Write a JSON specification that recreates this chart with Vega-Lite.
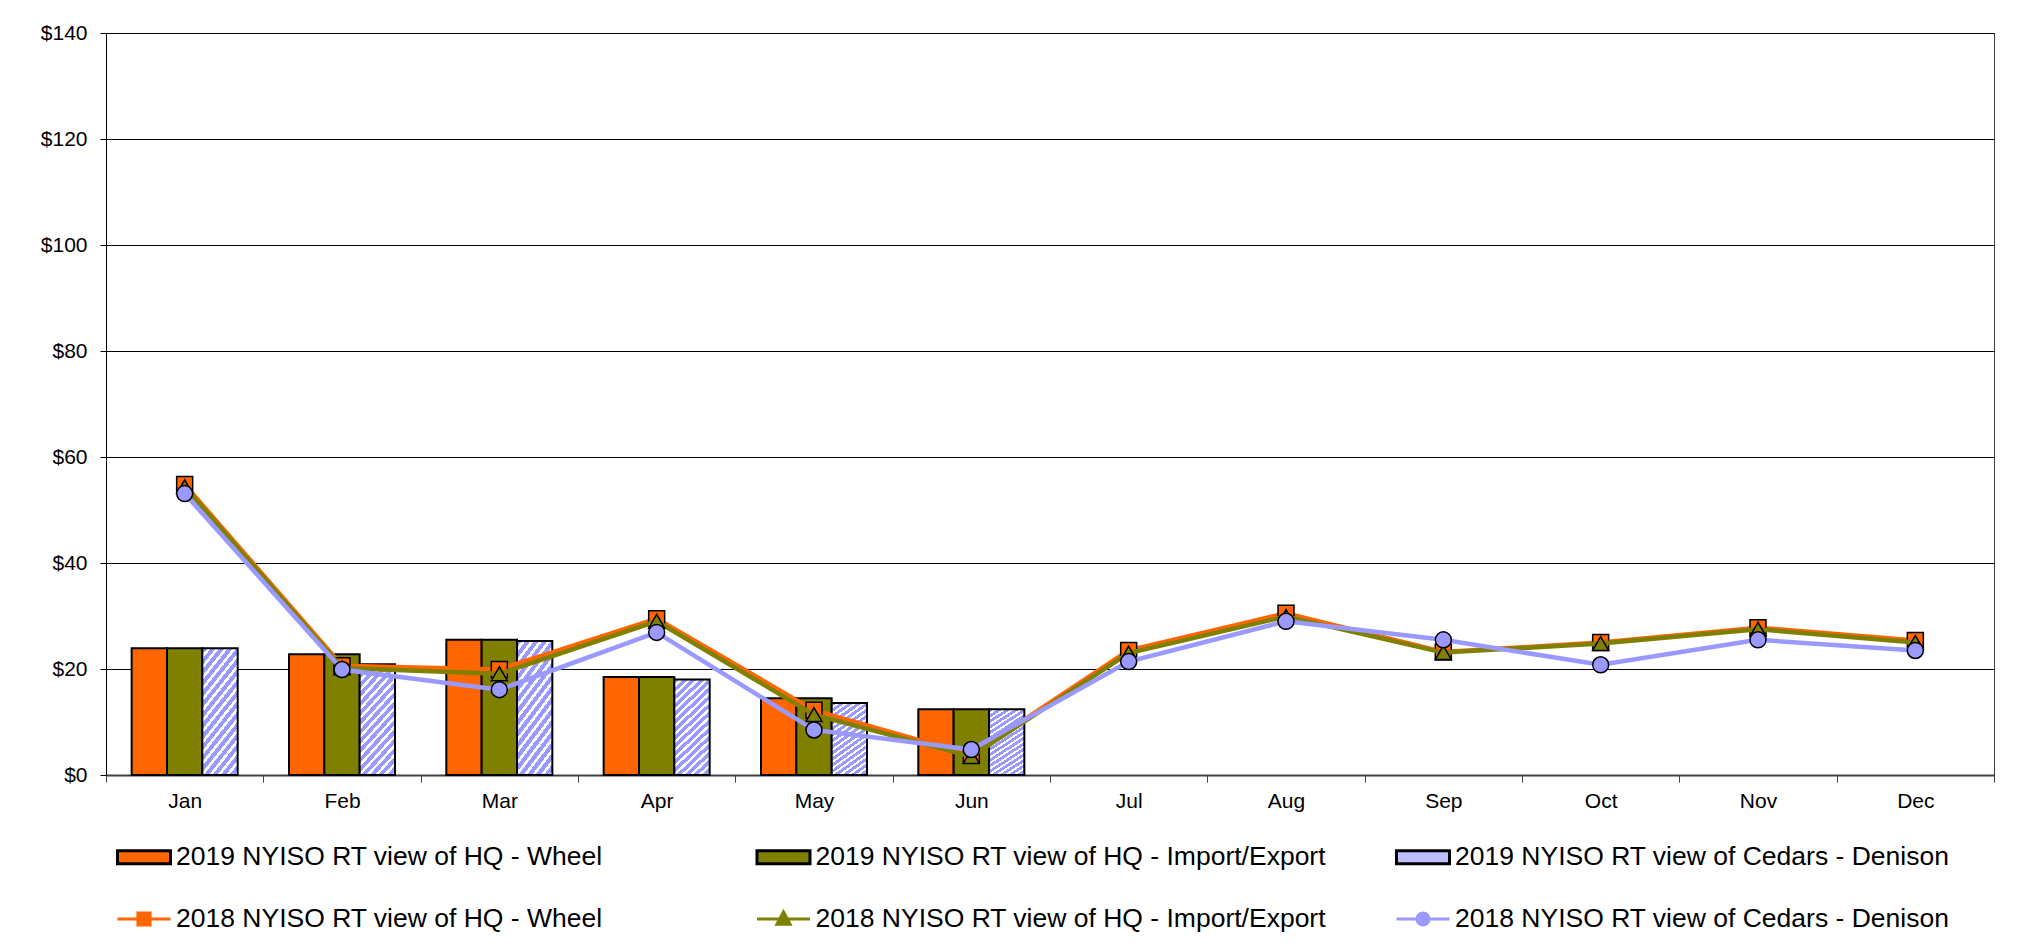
{
  "$schema": "https://vega.github.io/schema/vega-lite/v6.json",
  "width": 1888,
  "height": 742,
  "autosize": {"type": "none"},
  "padding": {"left": 106, "top": 33, "right": 25, "bottom": 174},
  "background": "white",
  "config": {
    "font": "Liberation Sans",
    "view": {"stroke": "#404040", "strokeWidth": 1},
    "legend": {
      "orient": "none", "legendX": 10, "legendY": 796, "direction": "horizontal", "columns": 3, "gridAlign": "all", "padding": 0,
      "symbolSize": 2809, "symbolStrokeWidth": 3, "symbolOpacity": 1,
      "labelFont": "Liberation Sans", "labelFontSize": 26.5, "labelColor": "black", "labelOffset": 4, "labelLimit": 0,
      "rowPadding": 20, "columnPadding": 63.5
    }
  },
  "datasets": {
    "bars": [
      {"month": "Jan", "series": "2019 NYISO RT view of HQ - Wheel", "value": 23.9},
      {"month": "Feb", "series": "2019 NYISO RT view of HQ - Wheel", "value": 22.8},
      {"month": "Mar", "series": "2019 NYISO RT view of HQ - Wheel", "value": 25.5},
      {"month": "Apr", "series": "2019 NYISO RT view of HQ - Wheel", "value": 18.5},
      {"month": "May", "series": "2019 NYISO RT view of HQ - Wheel", "value": 14.5},
      {"month": "Jun", "series": "2019 NYISO RT view of HQ - Wheel", "value": 12.4},
      {"month": "Jan", "series": "2019 NYISO RT view of HQ - Import/Export", "value": 23.9},
      {"month": "Feb", "series": "2019 NYISO RT view of HQ - Import/Export", "value": 22.8},
      {"month": "Mar", "series": "2019 NYISO RT view of HQ - Import/Export", "value": 25.5},
      {"month": "Apr", "series": "2019 NYISO RT view of HQ - Import/Export", "value": 18.5},
      {"month": "May", "series": "2019 NYISO RT view of HQ - Import/Export", "value": 14.5},
      {"month": "Jun", "series": "2019 NYISO RT view of HQ - Import/Export", "value": 12.4},
      {"month": "Jan", "series": "2019 NYISO RT view of Cedars - Denison", "value": 23.9},
      {"month": "Feb", "series": "2019 NYISO RT view of Cedars - Denison", "value": 20.9},
      {"month": "Mar", "series": "2019 NYISO RT view of Cedars - Denison", "value": 25.3},
      {"month": "Apr", "series": "2019 NYISO RT view of Cedars - Denison", "value": 18.0},
      {"month": "May", "series": "2019 NYISO RT view of Cedars - Denison", "value": 13.6},
      {"month": "Jun", "series": "2019 NYISO RT view of Cedars - Denison", "value": 12.4}
    ],
    "lines": [
      {"month": "Jan", "series": "2018 NYISO RT view of HQ - Wheel", "value": 54.8},
      {"month": "Feb", "series": "2018 NYISO RT view of HQ - Wheel", "value": 20.6},
      {"month": "Mar", "series": "2018 NYISO RT view of HQ - Wheel", "value": 19.9},
      {"month": "Apr", "series": "2018 NYISO RT view of HQ - Wheel", "value": 29.5},
      {"month": "May", "series": "2018 NYISO RT view of HQ - Wheel", "value": 12.2},
      {"month": "Jun", "series": "2018 NYISO RT view of HQ - Wheel", "value": 3.8},
      {"month": "Jul", "series": "2018 NYISO RT view of HQ - Wheel", "value": 23.5},
      {"month": "Aug", "series": "2018 NYISO RT view of HQ - Wheel", "value": 30.5},
      {"month": "Sep", "series": "2018 NYISO RT view of HQ - Wheel", "value": 23.2},
      {"month": "Oct", "series": "2018 NYISO RT view of HQ - Wheel", "value": 25.0},
      {"month": "Nov", "series": "2018 NYISO RT view of HQ - Wheel", "value": 27.8},
      {"month": "Dec", "series": "2018 NYISO RT view of HQ - Wheel", "value": 25.4},
      {"month": "Jan", "series": "2018 NYISO RT view of HQ - Import/Export", "value": 54.4},
      {"month": "Feb", "series": "2018 NYISO RT view of HQ - Import/Export", "value": 20.2},
      {"month": "Mar", "series": "2018 NYISO RT view of HQ - Import/Export", "value": 19.1},
      {"month": "Apr", "series": "2018 NYISO RT view of HQ - Import/Export", "value": 29.0},
      {"month": "May", "series": "2018 NYISO RT view of HQ - Import/Export", "value": 11.4},
      {"month": "Jun", "series": "2018 NYISO RT view of HQ - Import/Export", "value": 3.5},
      {"month": "Jul", "series": "2018 NYISO RT view of HQ - Import/Export", "value": 23.0},
      {"month": "Aug", "series": "2018 NYISO RT view of HQ - Import/Export", "value": 29.9},
      {"month": "Sep", "series": "2018 NYISO RT view of HQ - Import/Export", "value": 23.1},
      {"month": "Oct", "series": "2018 NYISO RT view of HQ - Import/Export", "value": 24.8},
      {"month": "Nov", "series": "2018 NYISO RT view of HQ - Import/Export", "value": 27.5},
      {"month": "Dec", "series": "2018 NYISO RT view of HQ - Import/Export", "value": 25.0},
      {"month": "Jan", "series": "2018 NYISO RT view of Cedars - Denison", "value": 53.1},
      {"month": "Feb", "series": "2018 NYISO RT view of Cedars - Denison", "value": 19.9},
      {"month": "Mar", "series": "2018 NYISO RT view of Cedars - Denison", "value": 16.1},
      {"month": "Apr", "series": "2018 NYISO RT view of Cedars - Denison", "value": 26.9},
      {"month": "May", "series": "2018 NYISO RT view of Cedars - Denison", "value": 8.5},
      {"month": "Jun", "series": "2018 NYISO RT view of Cedars - Denison", "value": 4.8},
      {"month": "Jul", "series": "2018 NYISO RT view of Cedars - Denison", "value": 21.4},
      {"month": "Aug", "series": "2018 NYISO RT view of Cedars - Denison", "value": 29.0},
      {"month": "Sep", "series": "2018 NYISO RT view of Cedars - Denison", "value": 25.5},
      {"month": "Oct", "series": "2018 NYISO RT view of Cedars - Denison", "value": 20.8},
      {"month": "Nov", "series": "2018 NYISO RT view of Cedars - Denison", "value": 25.5},
      {"month": "Dec", "series": "2018 NYISO RT view of Cedars - Denison", "value": 23.5}
    ]
  },
  "encoding": {
    "x": {
      "field": "month", "type": "nominal",
      "scale": {"domain": ["Jan","Feb","Mar","Apr","May","Jun","Jul","Aug","Sep","Oct","Nov","Dec"], "paddingInner": 0, "paddingOuter": 0},
      "axis": {"title": null, "labelAngle": 0, "labelFontSize": 21, "labelColor": "black", "labelPadding": 8, "tickSize": 7, "tickBand": "extent", "domainColor": "#404040", "domainWidth": 2, "tickColor": "#404040", "grid": false}
    },
    "y": {
      "field": "value", "type": "quantitative",
      "scale": {"domain": [0, 140], "nice": false},
      "axis": {"title": null, "values": [0,20,40,60,80,100,120,140], "format": "$,.0f", "labelFontSize": 21, "labelColor": "black", "labelPadding": 13, "tickSize": 6, "tickColor": "black", "domainColor": "black", "grid": true, "gridColor": "black", "gridWidth": 1}
    }
  },
  "layer": [
    {
      "data": {"name": "bars"},
      "mark": {"type": "bar", "stroke": "black", "strokeWidth": 2},
      "encoding": {
        "xOffset": {"field": "series", "type": "nominal", "scale": {"domain": ["2019 NYISO RT view of HQ - Wheel", "2019 NYISO RT view of HQ - Import/Export", "2019 NYISO RT view of Cedars - Denison"], "paddingOuter": 0.726, "paddingInner": 0}},
        "fill": {
          "condition": {
            "test": "datum.series === '2019 NYISO RT view of Cedars - Denison'",
            "value": {"gradient": "linear", "x1": 0, "y1": 0, "x2": 0.421, "y2": 1.203, "stops": [
              {"offset": 0, "color": "#9999FF"}, {"offset": 0.0375, "color": "#9999FF"}, {"offset": 0.0375, "color": "#FFFFFF"}, {"offset": 0.0625, "color": "#FFFFFF"},
              {"offset": 0.0625, "color": "#9999FF"}, {"offset": 0.1, "color": "#9999FF"}, {"offset": 0.1, "color": "#FFFFFF"}, {"offset": 0.125, "color": "#FFFFFF"},
              {"offset": 0.125, "color": "#9999FF"}, {"offset": 0.1625, "color": "#9999FF"}, {"offset": 0.1625, "color": "#FFFFFF"}, {"offset": 0.1875, "color": "#FFFFFF"},
              {"offset": 0.1875, "color": "#9999FF"}, {"offset": 0.225, "color": "#9999FF"}, {"offset": 0.225, "color": "#FFFFFF"}, {"offset": 0.25, "color": "#FFFFFF"},
              {"offset": 0.25, "color": "#9999FF"}, {"offset": 0.2875, "color": "#9999FF"}, {"offset": 0.2875, "color": "#FFFFFF"}, {"offset": 0.3125, "color": "#FFFFFF"},
              {"offset": 0.3125, "color": "#9999FF"}, {"offset": 0.35, "color": "#9999FF"}, {"offset": 0.35, "color": "#FFFFFF"}, {"offset": 0.375, "color": "#FFFFFF"},
              {"offset": 0.375, "color": "#9999FF"}, {"offset": 0.4125, "color": "#9999FF"}, {"offset": 0.4125, "color": "#FFFFFF"}, {"offset": 0.4375, "color": "#FFFFFF"},
              {"offset": 0.4375, "color": "#9999FF"}, {"offset": 0.475, "color": "#9999FF"}, {"offset": 0.475, "color": "#FFFFFF"}, {"offset": 0.5, "color": "#FFFFFF"},
              {"offset": 0.5, "color": "#9999FF"}, {"offset": 0.5375, "color": "#9999FF"}, {"offset": 0.5375, "color": "#FFFFFF"}, {"offset": 0.5625, "color": "#FFFFFF"},
              {"offset": 0.5625, "color": "#9999FF"}, {"offset": 0.6, "color": "#9999FF"}, {"offset": 0.6, "color": "#FFFFFF"}, {"offset": 0.625, "color": "#FFFFFF"},
              {"offset": 0.625, "color": "#9999FF"}, {"offset": 0.6625, "color": "#9999FF"}, {"offset": 0.6625, "color": "#FFFFFF"}, {"offset": 0.6875, "color": "#FFFFFF"},
              {"offset": 0.6875, "color": "#9999FF"}, {"offset": 0.725, "color": "#9999FF"}, {"offset": 0.725, "color": "#FFFFFF"}, {"offset": 0.75, "color": "#FFFFFF"},
              {"offset": 0.75, "color": "#9999FF"}, {"offset": 0.7875, "color": "#9999FF"}, {"offset": 0.7875, "color": "#FFFFFF"}, {"offset": 0.8125, "color": "#FFFFFF"},
              {"offset": 0.8125, "color": "#9999FF"}, {"offset": 0.85, "color": "#9999FF"}, {"offset": 0.85, "color": "#FFFFFF"}, {"offset": 0.875, "color": "#FFFFFF"},
              {"offset": 0.875, "color": "#9999FF"}, {"offset": 0.9125, "color": "#9999FF"}, {"offset": 0.9125, "color": "#FFFFFF"}, {"offset": 0.9375, "color": "#FFFFFF"},
              {"offset": 0.9375, "color": "#9999FF"}, {"offset": 0.975, "color": "#9999FF"}, {"offset": 0.975, "color": "#FFFFFF"}, {"offset": 1, "color": "#FFFFFF"}
            ]}
          },
          "field": "series", "type": "nominal",
          "scale": {"domain": ["2019 NYISO RT view of HQ - Wheel", "2019 NYISO RT view of HQ - Import/Export", "2019 NYISO RT view of Cedars - Denison", "2018 NYISO RT view of HQ - Wheel", "2018 NYISO RT view of HQ - Import/Export", "2018 NYISO RT view of Cedars - Denison"], "range": ["#FF6600", "#808000", "#BDBDFF", "#FF6600", "#808000", "#9999FF"]},
          "legend": {"title": null}
        }
      }
    },
    {
      "data": {"name": "lines"},
      "transform": [{"filter": "datum.series === '2018 NYISO RT view of HQ - Wheel'"}],
      "mark": {"type": "line", "strokeWidth": 4.5},
      "encoding": {
        "stroke": {
          "field": "series", "type": "nominal",
          "scale": {"domain": ["2019 NYISO RT view of HQ - Wheel", "2019 NYISO RT view of HQ - Import/Export", "2019 NYISO RT view of Cedars - Denison", "2018 NYISO RT view of HQ - Wheel", "2018 NYISO RT view of HQ - Import/Export", "2018 NYISO RT view of Cedars - Denison"], "range": ["black", "black", "black", "#FF6600", "#808000", "#9999FF"]},
          "legend": {"title": null}
        }
      }
    },
    {
      "data": {"name": "lines"},
      "transform": [{"filter": "datum.series === '2018 NYISO RT view of HQ - Wheel'"}],
      "mark": {"type": "point", "shape": "square", "filled": true, "size": 256, "stroke": "black", "strokeWidth": 1.5, "opacity": 1},
      "encoding": {"fill": {"field": "series", "type": "nominal", "legend": {"title": null}}}
    },
    {
      "data": {"name": "lines"},
      "transform": [{"filter": "datum.series === '2018 NYISO RT view of HQ - Import/Export'"}],
      "mark": {"type": "line", "strokeWidth": 4.5},
      "encoding": {"stroke": {"field": "series", "type": "nominal", "legend": {"title": null}}}
    },
    {
      "data": {"name": "lines"},
      "transform": [{"filter": "datum.series === '2018 NYISO RT view of HQ - Import/Export'"}],
      "mark": {"type": "point", "shape": "triangle-up", "filled": true, "size": 256, "stroke": "black", "strokeWidth": 1.5, "opacity": 1},
      "encoding": {"fill": {"field": "series", "type": "nominal", "legend": {"title": null}}}
    },
    {
      "data": {"name": "lines"},
      "transform": [{"filter": "datum.series === '2018 NYISO RT view of Cedars - Denison'"}],
      "mark": {"type": "line", "strokeWidth": 4.5},
      "encoding": {"stroke": {"field": "series", "type": "nominal", "legend": {"title": null}}}
    },
    {
      "data": {"name": "lines"},
      "transform": [{"filter": "datum.series === '2018 NYISO RT view of Cedars - Denison'"}],
      "mark": {"type": "point", "shape": "circle", "filled": true, "size": 256, "stroke": "black", "strokeWidth": 1.5, "opacity": 1},
      "encoding": {"fill": {"field": "series", "type": "nominal", "legend": {"title": null}}}
    },
    {
      "data": {"name": "lines"},
      "mark": {"type": "point", "filled": true, "opacity": 0},
      "encoding": {
        "fill": {"field": "series", "type": "nominal", "legend": {"title": null}},
        "stroke": {"field": "series", "type": "nominal", "legend": {"title": null}},
        "shape": {
          "field": "series", "type": "nominal",
          "scale": {"domain": ["2019 NYISO RT view of HQ - Wheel", "2019 NYISO RT view of HQ - Import/Export", "2019 NYISO RT view of Cedars - Denison", "2018 NYISO RT view of HQ - Wheel", "2018 NYISO RT view of HQ - Import/Export", "2018 NYISO RT view of Cedars - Denison"],
            "range": ["M-1,-0.245H1V0.245H-1Z", "M-1,-0.245H1V0.245H-1Z", "M-1,-0.245H1V0.245H-1Z",
              "M-1,0H1M-0.23,-0.23H0.23V0.23H-0.23Z",
              "M-1,0H1M0,-0.27L0.25,0.2H-0.25Z",
              "M-1,0H1M0.23,0A0.23,0.23,0,1,1,-0.23,0A0.23,0.23,0,1,1,0.23,0Z"]},
          "legend": {"title": null}
        }
      }
    }
  ]
}
